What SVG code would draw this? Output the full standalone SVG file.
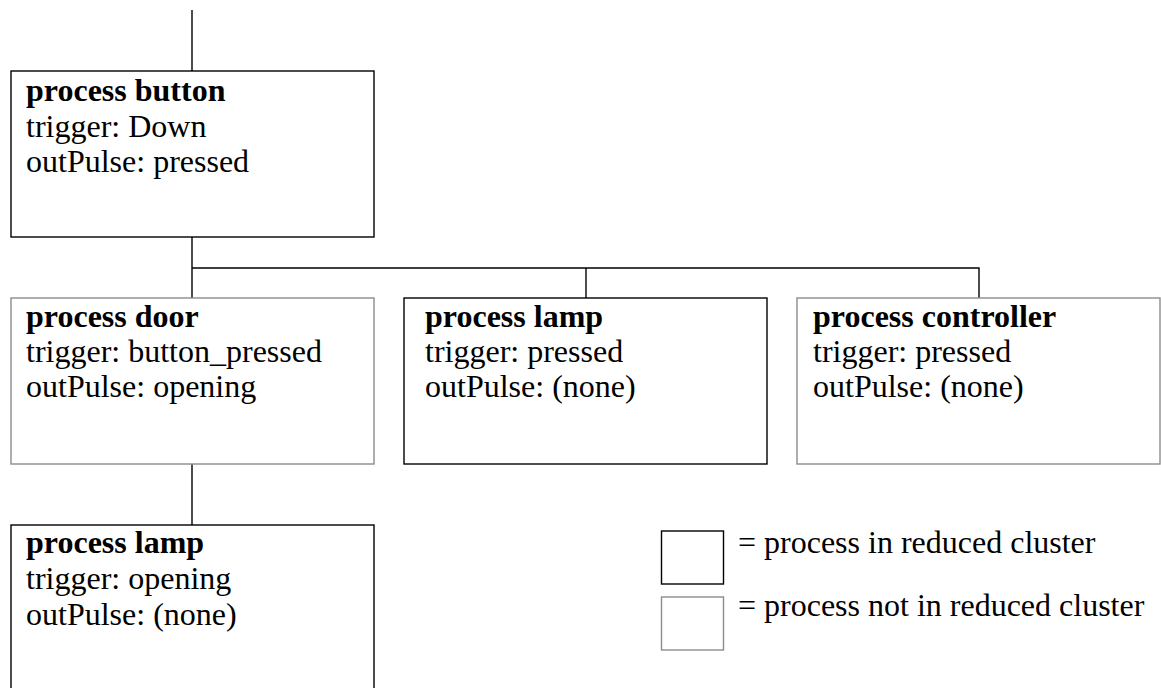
<svg xmlns="http://www.w3.org/2000/svg" width="1161" height="688" viewBox="0 0 1161 688">
  <style>
    .bg { fill: #ffffff; }
    .in { fill: #ffffff; stroke: #000000; stroke-width: 1.4; }
    .out { fill: #ffffff; stroke: #8c8c8c; stroke-width: 1.4; }
    .link { fill: none; stroke: #000000; stroke-width: 1.4; }
    text { font-family: "Liberation Serif", "Times New Roman", serif; font-size: 32px; fill: #000000; }
    .title { font-weight: bold; }
  </style>
  <rect class="bg" x="0" y="0" width="1161" height="688"/>

  <!-- connectors -->
  <g id="connectors">
    <line class="link" x1="192" y1="10" x2="192" y2="71"/>
    <line class="link" x1="192" y1="237" x2="192" y2="298"/>
    <polyline class="link" points="192,268 979,268 979,298"/>
    <line class="link" x1="586" y1="268" x2="586" y2="298"/>
    <line class="link" x1="192" y1="464" x2="192" y2="525"/>
  </g>

  <!-- process nodes -->
  <g id="node-button">
    <rect class="in" x="11" y="71" width="363" height="166"/>
    <text x="26" y="101" class="title">process button</text>
    <text x="26" y="137">trigger: Down</text>
    <text x="26" y="172">outPulse: pressed</text>
  </g>

  <g id="node-door">
    <rect class="out" x="11" y="298" width="363" height="166"/>
    <text x="26" y="327" class="title">process door</text>
    <text x="26" y="362">trigger: button_pressed</text>
    <text x="26" y="397">outPulse: opening</text>
  </g>

  <g id="node-lamp">
    <rect class="in" x="404" y="298" width="363" height="166"/>
    <text x="425" y="327" class="title">process lamp</text>
    <text x="425" y="362">trigger: pressed</text>
    <text x="425" y="397">outPulse: (none)</text>
  </g>

  <g id="node-controller">
    <rect class="out" x="797" y="298" width="363" height="166"/>
    <text x="813" y="327" class="title">process controller</text>
    <text x="813" y="362">trigger: pressed</text>
    <text x="813" y="397">outPulse: (none)</text>
  </g>

  <g id="node-lamp-opening">
    <rect class="in" x="11" y="525" width="363" height="180"/>
    <text x="26" y="553" class="title">process lamp</text>
    <text x="26" y="589">trigger: opening</text>
    <text x="26" y="625">outPulse: (none)</text>
  </g>

  <!-- legend -->
  <g id="legend">
    <rect class="in" x="661.5" y="531" width="62" height="53"/>
    <text x="738" y="553">= process in reduced cluster</text>
    <rect class="out" x="661.5" y="597" width="62" height="53"/>
    <text x="738" y="616">= process not in reduced cluster</text>
  </g>
</svg>
